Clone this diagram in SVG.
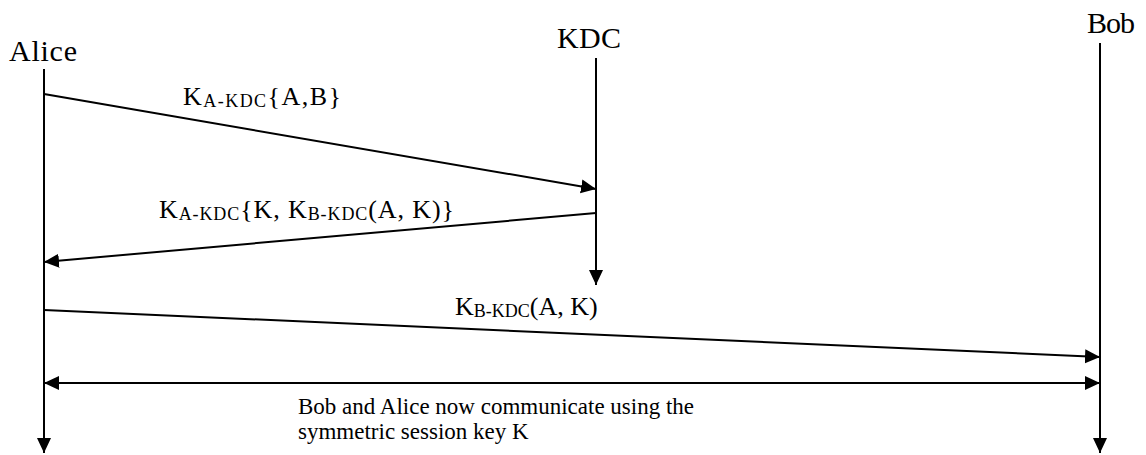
<svg xmlns="http://www.w3.org/2000/svg" width="1146" height="455" viewBox="0 0 1146 455">
<style>
  .title { font-size: 30px; fill: #000; }
  .lbl { font-size: 26px; fill: #000; }
  .sub { font-size: 18px; }
  .note { font-size: 23px; fill: #000; }
  .life { stroke: #000; stroke-width: 2; fill: none; marker-end: url(#ah); }
  .msg { stroke: #000; stroke-width: 2; fill: none; marker-end: url(#ah); }
</style>
<defs>
  <marker id="ah" markerUnits="userSpaceOnUse" markerWidth="16" markerHeight="16" refX="15" refY="8" orient="auto-start-reverse" viewBox="0 0 16 16">
    <path d="M0,1 L15,8 L0,15 z" fill="#000"/>
  </marker>
</defs>
<rect width="1146" height="455" fill="#fff"/>
<g font-family="Liberation Serif, DejaVu Serif, serif">
<g id="alice">
  <text class="title" x="9" y="61" textLength="68" lengthAdjust="spacing">Alice</text>
  <line class="life" x1="44" y1="69" x2="44" y2="453"/>
</g>
<g id="kdc">
  <text class="title" x="557" y="48" textLength="64" lengthAdjust="spacing">KDC</text>
  <line class="life" x1="596" y1="58" x2="596" y2="285"/>
</g>
<g id="bob">
  <text class="title" x="1087" y="33" textLength="48" lengthAdjust="spacing">Bob</text>
  <line class="life" x1="1100" y1="43" x2="1100" y2="453"/>
</g>
<g id="connectors">
  <line class="msg" x1="44" y1="94" x2="596" y2="189"/>
  <text class="lbl" x="183" y="105" textLength="158" lengthAdjust="spacing">K<tspan class="sub" dy="2">A-KDC</tspan><tspan dy="-2">{A,B}</tspan></text>
  <line class="msg" x1="596" y1="213" x2="44" y2="262"/>
  <text class="lbl" x="159" y="218" textLength="295" lengthAdjust="spacing">K<tspan class="sub" dy="2">A-KDC</tspan><tspan dy="-2">{K, K</tspan><tspan class="sub" dy="2">B-KDC</tspan><tspan dy="-2">(A, K)}</tspan></text>
  <line class="msg" x1="44" y1="310" x2="1100" y2="357"/>
  <text class="lbl" x="455" y="315">K<tspan class="sub" dy="2">B-KDC</tspan><tspan dy="-2">(A, K)</tspan></text>
  <line class="msg" x1="44" y1="383" x2="1100" y2="383" marker-start="url(#ah)"/>
  <text class="note" x="298" y="414">Bob and Alice now communicate using the</text>
  <text class="note" x="298" y="439">symmetric session key K</text>
</g>
</g>
</svg>
